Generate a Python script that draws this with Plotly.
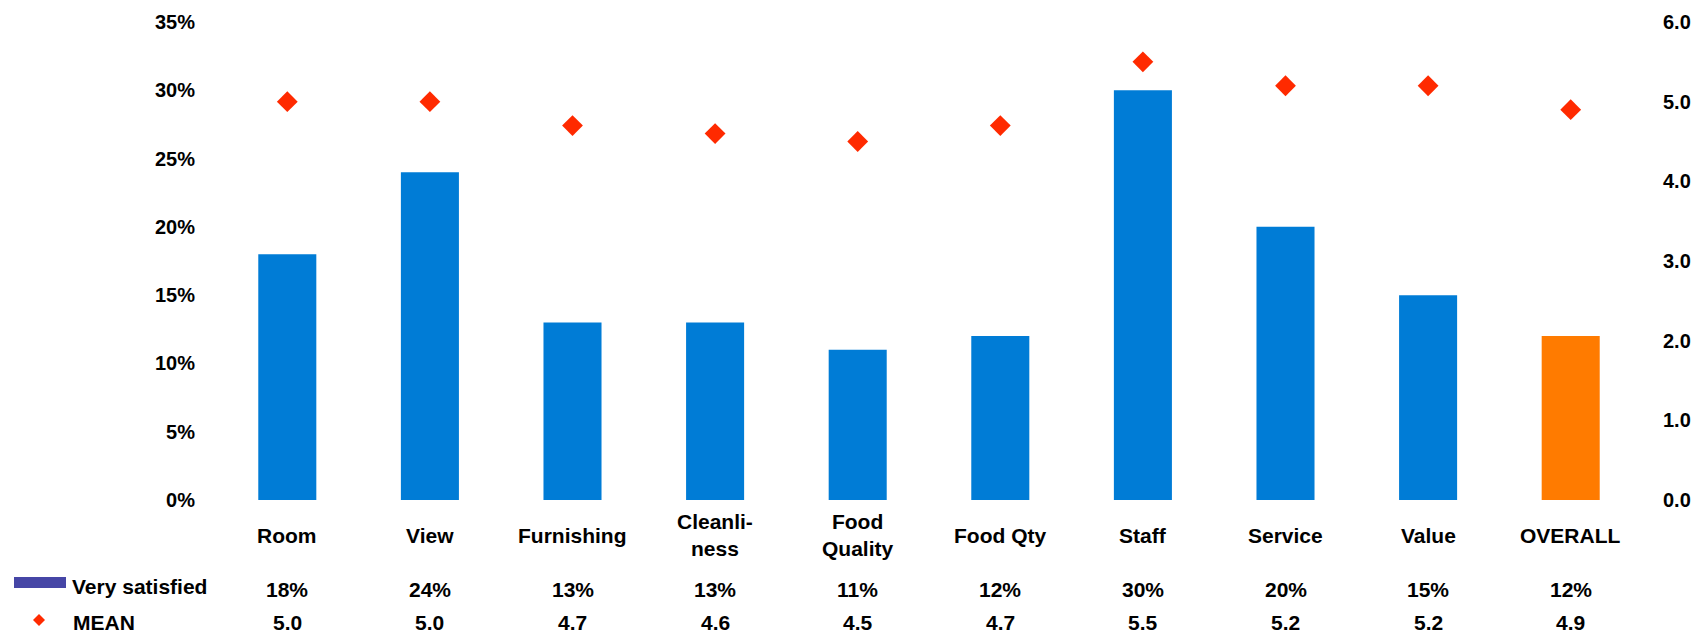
import plotly.graph_objects as go

# Satisfaction by attribute
categories = ["Room", "View", "Furnishing", "Cleanliness", "Food Quality",
              "Food Qty", "Staff", "Service", "Value", "OVERALL"]
category_labels = ["Room", "View", "Furnishing", "Cleanli-<br>ness", "Food<br>Quality",
                   "Food Qty", "Staff", "Service", "Value", "OVERALL"]
very_satisfied = [0.18, 0.24, 0.13, 0.13, 0.11, 0.12, 0.30, 0.20, 0.15, 0.12]
mean_score = [5.0, 5.0, 4.7, 4.6, 4.5, 4.7, 5.5, 5.2, 5.2, 4.9]

BLUE = "#007CD6"
ORANGE = "#FF7B00"
RED = "#FF2A00"
SWATCH = "#4646A6"
FONT = "Liberation Sans, Arial, sans-serif"
AXIS_TXT = 20
TXT = 21

bar_colors = [ORANGE if c == "OVERALL" else BLUE for c in categories]

fig = go.Figure()
fig.add_trace(go.Bar(
    x=categories, y=very_satisfied, name="Very satisfied",
    marker=dict(color=bar_colors, line=dict(width=0)),
    yaxis="y", showlegend=False, hoverinfo="skip",
))
fig.add_trace(go.Scatter(
    x=categories, y=mean_score, name="MEAN", mode="markers",
    marker=dict(symbol="diamond", size=16, color=RED, line=dict(width=0)),
    yaxis="y2", showlegend=False, hoverinfo="skip",
))

annotations = []
# category names under the bars
for cat, lab in zip(categories, category_labels):
    annotations.append(dict(
        x=cat, xref="x", y=0, yref="paper", yanchor="middle", yshift=-35,
        text=f"<b>{lab}</b>", showarrow=False, align="center",
        font=dict(family=FONT, size=TXT, color="#000000"),
    ))
# data table rows
for cat, v, m in zip(categories, very_satisfied, mean_score):
    annotations.append(dict(
        x=cat, xref="x", y=0, yref="paper", yanchor="middle", yshift=-89,
        text=f"<b>{v * 100:.0f}%</b>", showarrow=False,
        font=dict(family=FONT, size=TXT, color="#000000"),
    ))
    annotations.append(dict(
        x=cat, xref="x", y=0, yref="paper", yanchor="middle", yshift=-122,
        text=f"<b>{m:.1f}</b>", showarrow=False,
        font=dict(family=FONT, size=TXT, color="#000000"),
    ))
# row headers
annotations.append(dict(
    x=0, xref="paper", xanchor="left", xshift=-146,
    y=0, yref="paper", yanchor="middle", yshift=-86,
    text="<b>Very satisfied</b>", showarrow=False,
    font=dict(family=FONT, size=TXT, color="#000000"),
))
annotations.append(dict(
    x=0, xref="paper", xanchor="left", xshift=-145,
    y=0, yref="paper", yanchor="middle", yshift=-122,
    text="<b>MEAN</b>", showarrow=False,
    font=dict(family=FONT, size=TXT, color="#000000"),
))

shapes = [
    # swatch for the bar series
    dict(type="rect", xref="paper", yref="paper",
         xsizemode="pixel", ysizemode="pixel", xanchor=0, yanchor=0,
         x0=-202, x1=-150, y0=-77, y1=-88,
         fillcolor=SWATCH, line=dict(width=0)),
    # diamond for the mean series
    dict(type="path", xref="paper", yref="paper",
         xsizemode="pixel", ysizemode="pixel", xanchor=0, yanchor=0,
         path="M -177,-114 L -171,-120 L -177,-126 L -183,-120 Z",
         fillcolor=RED, line=dict(width=0)),
]

fig.update_layout(
    width=1707, height=635,
    margin=dict(l=216, r=65, t=22, b=135),
    paper_bgcolor="white", plot_bgcolor="white",
    bargap=0.593,
    font=dict(family=FONT, size=TXT, color="#000000"),
    xaxis=dict(type="category", showticklabels=False, showgrid=False,
               zeroline=False, showline=False, ticks="", range=[-0.5, 9.5]),
    yaxis=dict(range=[0, 0.35], dtick=0.05, tickformat=".0%",
               showgrid=False, zeroline=False, showline=False, ticks="",
               ticklabelstandoff=20,
               tickfont=dict(family=FONT, size=AXIS_TXT, color="#000000", weight="bold")),
    yaxis2=dict(range=[0, 6], dtick=1, tickformat=".1f", overlaying="y", side="right",
                showgrid=False, zeroline=False, showline=False, ticks="",
                ticklabelstandoff=20,
                tickfont=dict(family=FONT, size=AXIS_TXT, color="#000000", weight="bold")),
    annotations=annotations,
    shapes=shapes,
    showlegend=False,
)

fig.write_html("out.html")
